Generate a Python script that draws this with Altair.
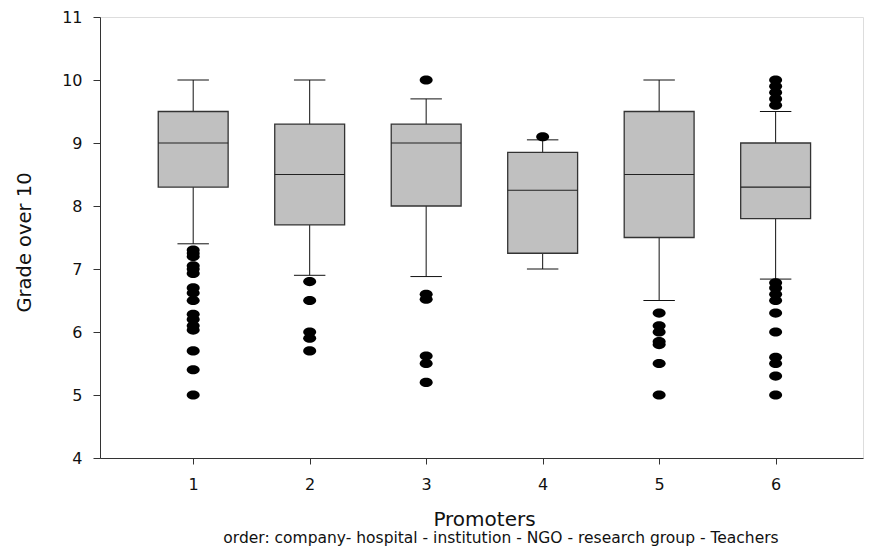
import altair as alt
import pandas as pd

# ---- data ----
groups = [1, 2, 3, 4, 5, 6]
q1 = [8.3, 7.7, 8.0, 7.25, 7.5, 7.8]
median = [9.0, 8.5, 9.0, 8.25, 8.5, 8.3]
q3 = [9.5, 9.3, 9.3, 8.85, 9.5, 9.0]
whisker_low = [7.4, 6.9, 6.88, 7.0, 6.5, 6.84]
whisker_high = [10.0, 10.0, 9.7, 9.05, 10.0, 9.5]

outliers_1 = [7.3, 7.25, 7.2, 7.05, 7.0, 6.93, 6.7, 6.62, 6.5, 6.28, 6.2, 6.1, 6.03, 5.7, 5.4, 5.0]
outliers_2 = [6.8, 6.5, 6.0, 5.9, 5.7]
outliers_3 = [10.0, 6.6, 6.52, 5.62, 5.5, 5.2]
outliers_4 = [9.1]
outliers_5 = [6.3, 6.1, 6.0, 5.85, 5.8, 5.5, 5.0]
outliers_6 = [10.0, 9.9, 9.8, 9.7, 9.6, 6.78, 6.7, 6.6, 6.5, 6.3, 6.0, 5.6, 5.5, 5.3, 5.0]

x_ticks = [1, 2, 3, 4, 5, 6]
y_ticks = [4, 5, 6, 7, 8, 9, 10, 11]
x_title = "Promoters"
y_title = "Grade over 10"
note = "order: company- hospital - institution - NGO - research group - Teachers"

# ---- tables ----
box_df = pd.DataFrame({
    "group": groups, "q1": q1, "median": median, "q3": q3,
    "wlo": whisker_low, "whi": whisker_high,
})
all_out = [outliers_1, outliers_2, outliers_3, outliers_4, outliers_5, outliers_6]
out_df = pd.DataFrame(
    [{"group": g, "value": v} for g, vals in zip(groups, all_out) for v in vals]
)

FONT = "DejaVu Sans"
W, H = 763, 441

x_scale = alt.Scale(domain=[0.2, 6.75], nice=False, zero=False)
y_scale = alt.Scale(domain=[4, 11], nice=False, zero=False)

x_axis = alt.Axis(values=x_ticks, title=x_title, grid=False, domain=True,
                  domainColor="#333", tickColor="#333", tickSize=6,
                  labelPadding=12, labelFontSize=16, labelFont=FONT,
                  labelColor="#111", titleFont=FONT, titleFontSize=20,
                  titleFontWeight="normal", titleColor="#111",
                  titleX=384, titleY=67, titleBaseline="alphabetic")
y_axis = alt.Axis(values=y_ticks, title=y_title, grid=False, domain=True,
                  domainColor="#333", tickColor="#333", tickSize=7,
                  labelPadding=11, labelFontSize=16, labelFont=FONT,
                  labelColor="#111", titleFont=FONT, titleFontSize=19.5,
                  titleFontWeight="normal", titleColor="#111",
                  titleX=-70, titleY=225, titleBaseline="alphabetic")


def X(field):
    return alt.X(field, type="quantitative", scale=x_scale, axis=x_axis)


def Y(field):
    return alt.Y(field, type="quantitative", scale=y_scale, axis=y_axis)


base = alt.Chart(box_df).transform_calculate(
    lo="datum.group - 0.3", hi="datum.group + 0.3",
    cl="datum.group - 0.135", cr="datum.group + 0.135",
)

whisk_low = base.mark_rule(color="#111", strokeWidth=1).encode(
    x=X("group"), y=Y("wlo"), y2="q1:Q")
whisk_high = base.mark_rule(color="#111", strokeWidth=1).encode(
    x=X("group"), y=Y("q3"), y2="whi:Q")
cap_low = base.mark_rule(color="#111", strokeWidth=1).encode(
    x=X("cl"), x2="cr:Q", y=Y("wlo"))
cap_high = base.mark_rule(color="#111", strokeWidth=1).encode(
    x=X("cl"), x2="cr:Q", y=Y("whi"))
box = base.mark_bar(fill="#c0c0c0", stroke="#333", strokeWidth=1.3, opacity=1).encode(
    x=X("lo"), x2="hi:Q", y=Y("q1"), y2="q3:Q")
med = base.mark_rule(color="#222", strokeWidth=1.2).encode(
    x=X("lo"), x2="hi:Q", y=Y("median"))

ellipse = "M-1,0A1,0.7,0,1,0,1,0A1,0.7,0,1,0,-1,0Z"
pts = alt.Chart(out_df).mark_point(
    shape=ellipse, size=169, filled=True, color="#000", opacity=1, strokeWidth=0
).encode(x=X("group"), y=Y("value"))

note_layer = alt.Chart(pd.DataFrame({"t": [note]})).mark_text(
    font=FONT, fontSize=15.5, color="#111", align="center", baseline="alphabetic"
).encode(text="t:N", x=alt.value(401), y=alt.value(526))

chart = alt.layer(
    whisk_low, whisk_high, cap_low, cap_high, box, med, pts, note_layer
).properties(
    width=W, height=H,
    autosize=alt.AutoSizeParams(type="none"),
    padding={"left": 92, "top": 9, "right": 1, "bottom": 88},
).configure_view(stroke="#333", strokeWidth=1.3).configure(background="white")

chart.save("out.html", embed_options={"renderer": "svg", "actions": False})
